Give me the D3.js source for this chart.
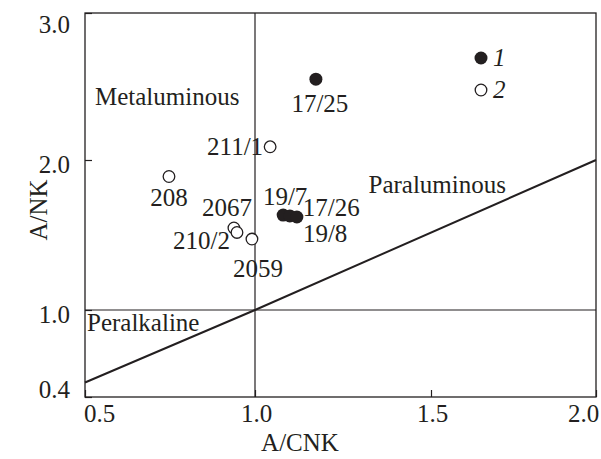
<!DOCTYPE html>
<html>
<head>
<meta charset="utf-8">
<script src="https://cdn.jsdelivr.net/npm/d3@7"></script>
<style>
  body { margin: 0; background: #fff; }
  svg { display: block; }
  text { font-family: "Liberation Serif", "Times New Roman", serif; fill: #231f20; }
</style>
</head>
<body>
<svg id="chart" width="601" height="459"></svg>
<script>
// Sample data: A/CNK vs A/NK
const sampleIds = ["17/25", "19/7", "17/26", "19/8", "211/1", "208", "2067", "210/2", "2059"];
const sampleGroup = [1, 1, 1, 1, 2, 2, 2, 2, 2];
const acnkValues = [1.173, 1.080, 1.099, 1.119, 1.043, 0.747, 0.938, 0.947, 0.991];
const ankValues = [2.55, 1.633, 1.627, 1.620, 2.09, 1.89, 1.547, 1.517, 1.473];

const xTicks = [0.5, 1.0, 1.5, 2.0];
const yTicks = [0.4, 1.0, 2.0, 3.0];
const legendGroups = [1, 2];

// Field boundary A/NK = A/CNK
const boundaryA = [[0.5, 0.5], [1.0, 1.0], [2.0, 2.0]];

const svg = d3.select("#chart");
const ink = "#231f20";
const numSize = 25;
const wordSize = 25;
const plot = { left: 85, right: 596, top: 13, bottom: 397 };

const x = d3.scaleLinear().domain([0.5, 1.0, 1.5, 2.0]).range([plot.left, 255, 431, plot.right]);
const y = d3.scaleLinear().domain([0.4, 1.0, 2.0, 3.0]).range([plot.bottom, 310, 160, plot.top]);

// Axes with inward ticks
const xAxis = svg.append("g")
  .attr("transform", `translate(0,${plot.bottom})`)
  .call(d3.axisBottom(x).tickValues(xTicks).tickSize(-7).tickPadding(0).tickFormat(d3.format(".1f")));
const yAxis = svg.append("g")
  .attr("transform", `translate(${plot.left},0)`)
  .call(d3.axisLeft(y).tickValues(yTicks).tickSize(-7).tickPadding(15).tickFormat(d3.format(".1f")));

[xAxis, yAxis].forEach(g => {
  g.select(".domain").remove();
  g.selectAll(".tick line").attr("stroke", ink).attr("stroke-width", 1.2);
  g.selectAll(".tick text").attr("font-size", numSize).attr("fill", ink)
    .style("font-family", '"Liberation Serif", serif');
});

// keep end labels inside the frame extent
xAxis.selectAll(".tick text")
  .attr("dy", null)
  .attr("y", 25)
  .attr("x", d => {
    const px = x(d) + 1;
    return Math.min(Math.max(px, plot.left + 14), plot.right - 13) - x(d);
  });
yAxis.selectAll(".tick text")
  .attr("dy", "0.32em")
  .attr("y", d => {
    const py = y(d) + 4;
    return Math.min(Math.max(py, plot.top + 11), plot.bottom - 8) - y(d);
  });

// Frame
svg.append("rect")
  .attr("x", plot.left).attr("y", plot.top)
  .attr("width", plot.right - plot.left).attr("height", plot.bottom - plot.top)
  .attr("fill", "none").attr("stroke", ink).attr("stroke-width", 1.3);

// A/CNK = 1 and A/NK = 1 dividers
svg.append("line")
  .attr("x1", x(1)).attr("x2", x(1)).attr("y1", plot.top).attr("y2", plot.bottom)
  .attr("stroke", ink).attr("stroke-width", 1.2);
svg.append("line")
  .attr("x1", plot.left).attr("x2", plot.right).attr("y1", y(1)).attr("y2", y(1))
  .attr("stroke", ink).attr("stroke-width", 1.2);

// Peralkaline / peraluminous boundary
svg.append("path")
  .datum(boundaryA)
  .attr("d", d3.line().x(d => x(d[0])).y(d => y(d[1])))
  .attr("fill", "none").attr("stroke", ink).attr("stroke-width", 2);

// Field names
const fields = [
  { name: "Metaluminous", px: 95, py: 105, anchor: "start" },
  { name: "Paraluminous", px: 506, py: 193, anchor: "end" },
  { name: "Peralkaline", px: 87, py: 331, anchor: "start" }
];
svg.selectAll("text.field").data(fields).join("text")
  .attr("class", "field")
  .attr("x", d => d.px).attr("y", d => d.py)
  .attr("text-anchor", d => d.anchor)
  .attr("font-size", wordSize)
  .text(d => d.name);

// Sample points
const samples = sampleIds.map((id, i) => ({ id, group: sampleGroup[i], a: acnkValues[i], b: ankValues[i] }));

const symbol = (sel, grp) => sel
  .attr("r", grp === 1 ? 6.5 : 5.8)
  .attr("fill", grp === 1 ? ink : "#fff")
  .attr("stroke", ink)
  .attr("stroke-width", grp === 1 ? 0 : 1.3);

svg.selectAll("circle.open").data(samples.filter(d => d.group === 2)).join("circle")
  .attr("class", "open")
  .attr("cx", d => x(d.a)).attr("cy", d => y(d.b))
  .each(function () { symbol(d3.select(this), 2); });
svg.selectAll("circle.solid").data(samples.filter(d => d.group === 1)).join("circle")
  .attr("class", "solid")
  .attr("cx", d => x(d.a)).attr("cy", d => y(d.b))
  .each(function () { symbol(d3.select(this), 1); });

// Sample labels, offset from their points
const labelPlace = {
  "17/25": ["middle", 4, 33],
  "19/7": ["middle", 2, -10],
  "17/26": ["start", 13, 0],
  "19/8": ["start", 6, 25],
  "211/1": ["end", -7, 8],
  "208": ["middle", 0, 29],
  "2067": ["end", 18, -12],
  "210/2": ["end", -7, 17],
  "2059": ["start", -19, 38]
};
svg.selectAll("text.sample").data(samples).join("text")
  .attr("class", "sample")
  .attr("x", d => x(d.a) + labelPlace[d.id][1])
  .attr("y", d => y(d.b) + labelPlace[d.id][2])
  .attr("text-anchor", d => labelPlace[d.id][0])
  .attr("font-size", numSize)
  .text(d => d.id);

// Legend
const legend = svg.append("g").attr("transform", `translate(${plot.right - 115},58)`);
legendGroups.forEach((g, i) => {
  const row = legend.append("g").attr("transform", `translate(0,${i * 32})`);
  row.append("circle").attr("cx", 0).attr("cy", 0).call(s => symbol(s, g));
  row.append("text").attr("x", 12).attr("y", 8)
    .attr("font-size", numSize).attr("font-style", "italic").text(g);
});

// Axis titles
svg.append("text")
  .attr("transform", `translate(47,210) rotate(-90)`)
  .attr("text-anchor", "middle").attr("font-size", wordSize)
  .text("A/NK");
svg.append("text")
  .attr("x", 300).attr("y", 451)
  .attr("text-anchor", "middle").attr("font-size", wordSize)
  .text("A/CNK");
</script>
</body>
</html>
